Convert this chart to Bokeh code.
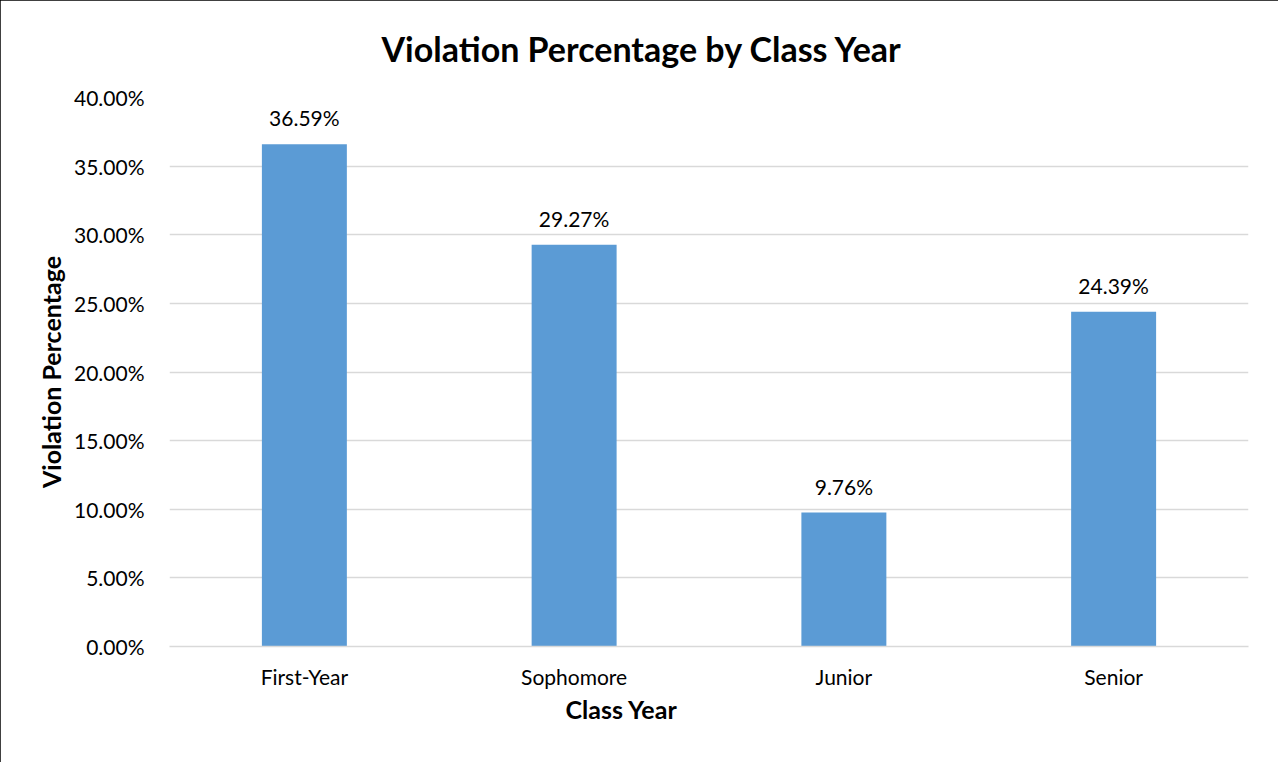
from bokeh.plotting import figure
from bokeh.models import ColumnDataSource, LabelSet, Range1d, FactorRange, PrintfTickFormatter, FixedTicker, Title
from bokeh.core.properties import value
from bokeh.embed import file_html
from bokeh.resources import INLINE

categories = ["First-Year", "Sophomore", "Junior", "Senior"]
values = [36.59, 29.27, 9.76, 24.39]
value_labels = ["36.59%", "29.27%", "9.76%", "24.39%"]
y_ticks = [0, 5, 10, 15, 20, 25, 30, 35, 40]

FONT = "Lato"

src = ColumnDataSource(dict(cat=categories, val=values, lab=value_labels))

p = figure(width=1278, height=762, x_range=FactorRange(*categories), y_range=Range1d(0, 40),
           output_backend="svg", toolbar_location=None,
           min_border_left=169, min_border_right=30, min_border_top=97, min_border_bottom=116)
p.styles = {"outline": "2px solid black", "outline-offset": "-2px"}
p.outline_line_color = None
p.background_fill_color = "white"
p.border_fill_color = "white"

p.vbar(x="cat", top="val", width=0.315, source=src, color="#5b9bd5", line_color=None)

p.add_layout(LabelSet(x="cat", y="val", text="lab", source=src, text_align="center",
                      text_baseline="bottom", y_offset=14, text_font=value(FONT),
                      text_font_size="21px", text_color="#000000"))

p.xgrid.grid_line_color = None
p.ygrid.grid_line_color = "#d9d9d9"
p.ygrid.grid_line_width = 1.5
p.yaxis.ticker = FixedTicker(ticks=y_ticks)
p.yaxis.formatter = PrintfTickFormatter(format="%.2f%%")

for ax in (p.xaxis, p.yaxis):
    ax.major_tick_line_color = None
    ax.minor_tick_line_color = None
    ax.major_label_text_font = FONT
    ax.major_label_text_font_size = "21px"
    ax.major_label_text_color = "#000000"
p.yaxis.axis_line_color = None
p.xaxis.axis_line_color = "#d9d9d9"
p.xaxis.axis_line_width = 1.5
p.yaxis.major_label_standoff = 19
p.xaxis.major_label_standoff = 11

p.yaxis.axis_label = "Violation Percentage"
p.yaxis.axis_label_text_font = FONT
p.yaxis.axis_label_text_font_style = "bold"
p.yaxis.axis_label_text_font_size = "25px"
p.yaxis.axis_label_text_color = "#000000"
p.yaxis.axis_label_standoff = 5

p.add_layout(Title(text="Class Year", align="left", offset=396, text_font=FONT, text_font_style="bold",
                   text_font_size="25px", text_color="#000000", standoff=0), "below")
p.add_layout(Title(text="Violation Percentage by Class Year", align="left", offset=212, text_font=FONT,
                   text_font_style="bold", text_font_size="34px", text_color="#000000",
                   vertical_align="top", standoff=54), "above")

open("out.html", "w").write(file_html(p, INLINE))
